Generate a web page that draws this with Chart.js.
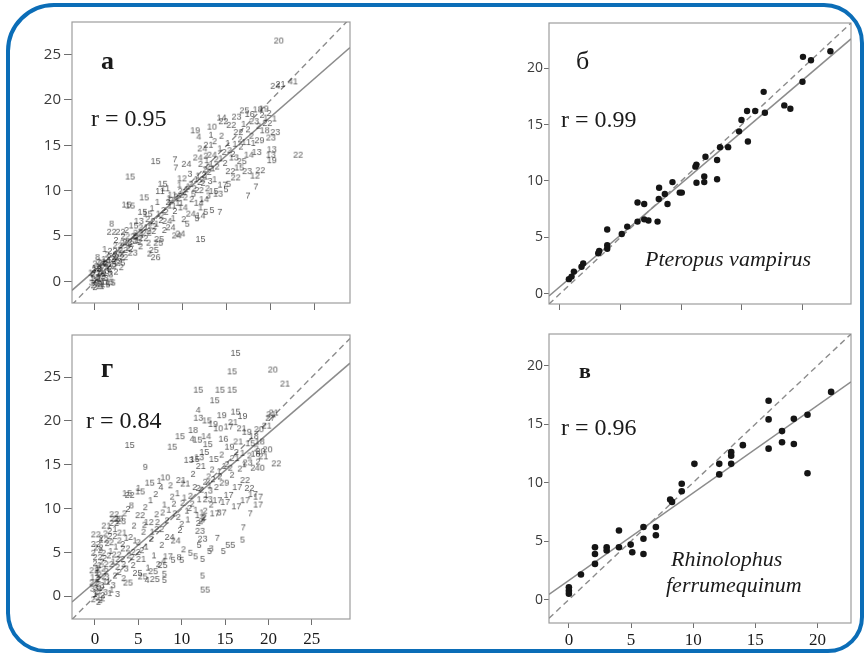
<!DOCTYPE html>
<html>
<head>
<meta charset="utf-8">
<script src="https://cdn.jsdelivr.net/npm/chart.js@4.4.0/dist/chart.umd.min.js"></script>
<style>
  body { margin: 0; background: #fff; width: 866px; height: 657px; overflow: hidden; position: relative; }
  .frame { position: absolute; left: 6px; top: 3px; width: 850px; height: 642px; border: 4px solid #0b6db7; border-radius: 48px 40px 36px 40px; }
  canvas { position: absolute; }
  .note { position: absolute; font-family: "Liberation Serif", serif; color: #1a1a1a; line-height: 1; white-space: nowrap; }
</style>
</head>
<body>
<div class="frame"></div>

<script>
// а: observed vs predicted, all species (points labelled with species number)
const aXTicks = [0, 5, 10, 15, 20, 25];
const aYTicks = [0, 5, 10, 15, 20, 25];
const aFit = [0.848, 1.2]; // slope, intercept
const aPoints = [
  [-0.2,-0.5,'2'],[0,0,'1'],[0.3,0.4,'3'],[0.5,-0.2,'2'],[0.1,0.8,'22'],[-0.3,0.3,'1'],[0.6,1.0,'3'],[0.9,0.5,'2'],
  [0.2,1.4,'12'],[0.8,1.7,'2'],[1.1,1.1,'13'],[1.3,0.3,'3'],[0.4,-0.6,'2'],[1.5,1.9,'22'],[1.0,2.4,'1'],[1.7,1.3,'2'],
  [1.9,2.6,'22'],[2.2,1.8,'3'],[2.5,2.2,'23'],[1.4,2.9,'2'],[0.0,1.9,'2'],[-0.1,1.2,'3'],[0.7,2.1,'21'],[2.0,3.3,'22'],
  [2.7,3.0,'2'],[2.9,2.0,'25'],[3.2,3.4,'22'],[1.2,-0.4,'15'],[1.6,-0.1,'15'],[0.5,0.2,'1'],[0.2,-0.3,'2'],[1.8,0.7,'3'],
  [2.4,1.0,'2'],[0.9,-0.1,'1'],[3.0,1.5,'2'],[1.1,3.5,'1'],[0.3,2.6,'8'],[2.6,3.9,'22'],[3.5,2.6,'2'],[3.4,4.2,'22'],
  [0.1,0.1,'2'],[0.4,0.9,'1'],[-0.4,-0.2,'3'],[0.7,0.3,'22'],[1.0,0.8,'2'],[0.3,1.6,'1'],[-0.2,0.7,'2'],[0.6,-0.4,'3'],
  [1.3,1.5,'2'],[0.9,2.0,'22'],[1.6,2.3,'1'],[0.0,-0.7,'2'],[1.4,0.9,'13'],[2.1,2.4,'2'],[0.5,1.3,'3'],[1.9,1.6,'22'],
  [-0.5,0.9,'1'],[1.2,1.9,'2'],[2.3,2.9,'2'],[0.8,-0.6,'1'],
  [3.8,3.6,'2'],[4.0,4.9,'22'],[4.3,3.1,'23'],[4.6,4.4,'2'],[4.9,5.3,'22'],[5.2,3.8,'2'],[5.5,4.7,'22'],[5.8,5.9,'1'],
  [6.1,4.2,'2'],[6.4,5.5,'22'],[6.7,3.4,'25'],[7.0,6.3,'1'],[7.3,4.6,'25'],[7.6,7.2,'2'],[5.0,6.6,'13'],[4.4,6.1,'15'],
  [3.6,5.6,'2'],[2.9,5.4,'22'],[2.4,4.5,'2'],[6.0,7.4,'15'],[6.5,8.0,'1'],[5.4,7.6,'15'],[4.0,8.3,'15'],[5.6,9.2,'15'],
  [7.1,8.7,'1'],[7.9,5.6,'2'],[8.2,6.6,'24'],[6.9,2.6,'26'],[6.2,3.0,'2'],
  [2.8,2.6,'22'],[3.1,3.0,'2'],[3.7,4.3,'22'],[4.1,3.5,'2'],[4.7,4.9,'2'],[5.3,5.1,'1'],[5.9,5.3,'22'],[6.3,6.1,'2'],
  [6.8,6.0,'2'],[7.2,7.4,'1'],[7.5,6.7,'2'],[8.1,7.6,'2'],[6.0,6.8,'2'],[5.2,5.9,'2'],[3.2,4.9,'2'],
  [8.5,8.3,'1'],[8.8,9.5,'11'],[9.1,7.7,'2'],[9.4,8.6,'1'],[9.7,9.9,'2'],[10.0,8.1,'14'],[10.3,9.2,'2'],[10.6,10.4,'1'],
  [10.9,7.4,'24'],[11.2,9.6,'5'],[11.5,11.2,'1'],[11.8,8.6,'14'],[12.1,10.0,'2'],[12.4,11.7,'2'],[8.0,10.2,'11'],[7.4,9.9,'11'],
  [9.9,11.3,'12'],[10.8,11.8,'3'],[8.6,5.9,'24'],[9.3,5.0,'24'],[10.5,6.3,'5'],[11.6,6.9,'5'],[12.6,7.6,'5'],[13.3,7.8,'5'],
  [7.8,7.8,'2'],[8.9,6.9,'1'],[10.1,6.8,'2'],[12.0,7.2,'14'],[6.6,6.6,'2'],[9.6,10.6,'1'],[7.7,10.7,'15'],
  [12.3,10.8,'2'],[12.6,11.5,'1'],[12.8,10.2,'2'],[13.1,11.0,'3'],[12.5,12.3,'2'],[13.4,12.4,'1'],[11.9,10.9,'2'],
  [8.7,8.9,'2'],[9.0,8.3,'1'],[9.5,9.1,'2'],[8.3,8.7,'2'],[9.8,8.6,'1'],[4.2,4.1,'2'],[4.8,4.5,'1'],[4.5,5.0,'2'],[5.1,4.3,'2'],
  [8.4,9.1,'1'],[9.2,9.3,'2'],[9.9,9.5,'2'],[10.4,10.1,'1'],[10.9,10.7,'2'],[11.3,10.2,'2'],[11.7,11.6,'1'],[12.2,11.2,'2'],
  [11.0,9.0,'2'],[10.2,9.8,'1'],[11.6,10.0,'2'],[12.0,8.1,'1'],
  [12.7,13.3,'1'],[13.0,12.0,'2'],[13.3,13.9,'24'],[13.6,11.2,'1'],[13.9,12.6,'2'],[14.2,14.6,'1'],[14.5,10.6,'17'],[14.8,13.0,'2'],
  [15.1,15.2,'1'],[15.4,12.1,'22'],[15.7,14.0,'2'],[16.0,11.4,'22'],[12.2,14.6,'24'],[12.9,15.0,'21'],[13.6,15.4,'2'],[14.4,16.0,'2'],
  [12.0,12.9,'2'],[12.9,9.4,'3'],[13.5,9.9,'15'],[14.0,9.6,'13'],[14.9,10.1,'5'],[11.7,13.6,'24'],[13.2,16.1,'1'],[12.4,9.0,'14'],[15.2,10.7,'5'],
  [12.9,12.6,'2'],[13.2,12.9,'1'],[12.6,13.8,'2'],[13.8,13.4,'2'],[14.3,13.5,'1'],[14.7,14.2,'2'],[15.3,14.4,'2'],[15.9,15.1,'1'],
  [16.3,16.4,'22'],[16.6,14.8,'2'],[16.9,17.3,'1'],[17.2,15.3,'11'],[17.5,13.9,'14'],[17.8,16.0,'2'],[18.1,17.6,'23'],[18.4,14.2,'13'],
  [18.7,15.5,'29'],[19.0,18.3,'2'],[19.3,16.6,'18'],[19.6,17.4,'22'],[20.0,15.8,'23'],[15.5,17.2,'22'],[16.1,18.1,'23'],[17.0,18.8,'25'],
  [17.6,18.4,'16'],[18.5,18.9,'18'],[19.2,19.0,'19'],[19.8,18.5,'2'],[20.4,17.9,'1'],[20.5,16.4,'23'],[20.0,13.9,'13'],[20.1,13.3,'19'],
  [18.2,11.6,'12'],[17.3,12.1,'23'],[16.4,12.5,'15'],[15.8,13.6,'13'],[18.8,12.2,'22'],[14.6,17.6,'22'],[16.7,13.2,'25'],
  [16.5,15.6,'2'],[17.4,16.7,'2'],[18.0,15.2,'1'],[18.6,17.1,'2'],[19.4,18.0,'1'],
  [20.9,26.5,'20'],[20.5,21.5,'24'],[21.1,21.7,'21'],[22.5,22.0,'41'],[23.1,13.9,'22'],[20.1,14.5,'13'],[6.9,13.2,'15'],[9.1,13.4,'7'],
  [4.0,11.5,'15'],[11.4,16.6,'19'],[13.3,17.0,'10'],[14.4,18.0,'14'],[18.3,10.4,'7'],[17.4,9.4,'7'],[14.2,7.6,'7'],[9.7,5.2,'24'],
  [12.0,4.6,'15'],[3.6,8.4,'15'],[1.9,6.3,'8'],[1.9,5.4,'22'],[1.8,-0.2,'15'],[7.2,4.2,'25'],[11.8,15.9,'4'],[10.4,12.9,'24'],[9.2,12.5,'7']
];

// б: Pteropus vampirus
const bXTicks = [0, 5, 10, 15, 20];
const bYTicks = [0, 5, 10, 15, 20];
const bFit = [0.915, 0.63];
const bPoints = [
  [0.74,1.3],[0.96,1.53],[1.15,1.97],[1.78,2.4],[1.92,2.7],[3.16,3.6],[3.24,3.8],[3.9,4.0],[3.9,4.3],[3.9,5.7],
  [5.1,5.3],[5.55,5.96],[6.4,6.4],[6.4,8.1],[6.95,7.96],[6.95,6.6],[7.3,6.5],[8.05,6.4],[8.15,8.4],[8.18,9.4],
  [8.65,8.85],[8.87,7.96],[9.28,9.9],[9.88,8.97],[10.05,8.97],[11.17,11.27],[11.25,11.45],[11.26,9.85],[11.9,10.4],[11.9,9.9],
  [12.0,12.15],[12.96,11.86],[12.96,10.15],[13.2,13.0],[13.87,13.0],[14.77,14.4],[14.97,15.4],[15.43,16.2],[15.5,13.5],[16.1,16.2],
  [16.8,17.9],[16.9,16.05],[18.5,16.7],[19.0,16.4],[20.0,18.8],[20.04,21.0],[20.7,20.7],[22.3,21.5]
];

// г: all species, second model
const gXTicks = [0, 5, 10, 15, 20, 25];
const gYTicks = [0, 5, 10, 15, 20, 25];
const gFit = [0.85, 1.6];
const gPoints = [
  [-0.2,-0.4,'2'],[0,0.2,'1'],[0.3,-0.2,'2'],[0.1,0.9,'3'],[0.5,0.5,'1'],[-0.1,1.5,'22'],[0.4,1.9,'2'],[0.8,1.2,'3'],
  [0.2,2.6,'1'],[0.7,3.1,'22'],[1.0,2.2,'2'],[0.0,3.7,'2'],[0.3,4.4,'22'],[0.6,5.2,'2'],[0.1,5.9,'22'],[-0.2,4.9,'2'],
  [1.2,0.4,'3'],[1.5,1.6,'1'],[1.3,2.8,'2'],[1.6,3.6,'22'],[1.1,4.3,'2'],[1.8,5.1,'1'],[1.4,6.0,'2'],[2.0,6.8,'22'],
  [1.7,7.4,'2'],[2.3,2.3,'2'],[2.1,1.2,'3'],[2.6,3.3,'2'],[2.9,4.2,'22'],[2.4,5.6,'1'],[2.8,6.3,'2'],[3.1,7.2,'21'],
  [3.3,2.0,'2'],[3.6,3.1,'3'],[3.9,4.6,'2'],[3.5,5.4,'22'],[4.1,6.7,'2'],[3.8,1.5,'25'],[0.9,-0.3,'2'],[0.4,-0.7,'2'],
  [1.9,0.7,'1'],[2.6,0.2,'3'],[0.0,2.1,'12'],[0.5,3.5,'1'],[1.0,6.4,'12'],[2.2,8.3,'22'],[2.7,8.8,'23'],[3.0,8.5,'23'],
  [3.4,9.4,'2'],[1.3,8.0,'21'],
  [0.2,0.5,'2'],[0.6,0.9,'1'],[-0.3,0.8,'3'],[0.3,1.3,'2'],[0.9,0.1,'2'],[1.1,1.6,'1'],[0.5,2.4,'2'],[-0.1,2.9,'22'],
  [0.8,3.9,'2'],[1.4,2.1,'3'],[0.2,3.2,'1'],[1.0,4.9,'2'],[0.4,5.5,'22'],[1.6,4.6,'2'],[2.1,3.9,'1'],[0.7,6.6,'2'],
  [1.9,6.1,'2'],[2.5,4.7,'22'],[1.2,7.1,'2'],[2.3,7.6,'1'],[0.1,7.0,'22'],[0.6,-0.5,'2'],[1.7,0.3,'1'],[2.8,2.7,'2'],
  [3.2,5.9,'2'],[3.6,6.6,'1'],[2.2,9.3,'22'],[3.3,3.6,'2'],
  [4.4,3.5,'2'],[4.7,5.0,'22'],[5.0,6.1,'2'],[5.3,4.2,'21'],[5.6,7.3,'2'],[5.9,5.6,'1'],[6.2,8.4,'12'],[6.5,6.5,'2'],
  [6.8,4.6,'1'],[7.1,9.3,'2'],[7.4,7.6,'22'],[7.7,5.8,'2'],[8.0,10.4,'1'],[8.3,8.6,'2'],[8.6,6.7,'24'],[8.9,11.3,'2'],
  [4.5,8.0,'2'],[5.2,9.2,'22'],[5.8,10.1,'2'],[6.4,10.9,'1'],[7.0,11.6,'2'],[7.6,12.4,'4'],[4.9,2.6,'25'],[5.5,2.2,'25'],
  [6.1,3.2,'1'],[6.7,2.8,'25'],[7.3,3.6,'2'],[8.0,2.5,'5'],[8.4,4.5,'17'],[6.0,1.8,'4'],[4.2,10.3,'8'],[3.8,9.9,'2'],
  [4.0,11.5,'22'],[5.0,12.3,'1'],[6.3,12.9,'15'],[7.4,13.1,'1'],[8.1,13.5,'10'],[8.7,12.6,'2'],[7.9,4.0,'4'],
  [4.3,4.4,'2'],[4.6,6.3,'1'],[5.4,5.2,'2'],[5.7,8.1,'2'],[6.6,7.3,'1'],[7.2,8.4,'2'],[7.8,9.5,'2'],[8.5,9.8,'1'],
  [9.2,9.4,'2'],[9.5,11.7,'1'],[9.8,7.5,'2'],[10.1,10.6,'2'],[10.4,12.8,'21'],[10.7,8.7,'1'],[11.0,11.4,'2'],[11.3,13.9,'2'],
  [11.6,9.8,'1'],[11.9,12.3,'2'],[12.2,14.8,'21'],[12.5,8.9,'2'],[12.8,11.5,'1'],[13.1,13.6,'2'],[13.4,10.4,'2'],[13.7,15.6,'15'],
  [14.0,12.4,'2'],[12.3,9.5,'1'],[12.1,7.4,'23'],[12.4,6.5,'23'],[12.0,5.8,'5'],[9.9,13.2,'21'],[10.8,15.5,'13'],[11.5,15.6,'15'],
  [12.0,15.8,'13'],[12.6,16.4,'15'],[13.0,17.3,'15'],[11.8,17.8,'15'],[12.8,18.2,'14'],[13.3,12.0,'3'],[13.6,13.3,'2'],[13.0,11.0,'23'],
  [10.0,8.2,'2'],[10.6,9.7,'1'],[11.2,10.5,'2'],[9.3,6.3,'24'],[10.2,5.3,'2'],[11.0,4.9,'5'],[13.4,5.4,'3'],[9.7,4.4,'8'],
  [9.0,4.1,'5'],[12.4,8.7,'3'],[12.7,9.7,'2'],[11.9,8.3,'2'],
  [9.1,10.5,'2'],[9.6,9.0,'2'],[10.3,11.2,'1'],[10.9,10.0,'2'],[11.5,12.4,'2'],[12.0,11.0,'1'],[12.3,12.1,'2'],[12.7,13.0,'2'],
  [13.2,12.6,'1'],[13.5,14.4,'2'],[12.2,8.5,'2'],[11.8,9.2,'1'],[12.6,9.0,'2'],
  [14.3,14.2,'1'],[14.6,16.1,'2'],[14.9,12.9,'29'],[15.2,15.0,'2'],[15.5,17.0,'19'],[15.8,13.8,'2'],[16.1,15.7,'21'],[16.4,12.4,'17'],
  [16.7,14.5,'2'],[17.0,16.3,'1'],[17.3,13.2,'22'],[17.6,15.2,'23'],[17.9,17.4,'15'],[18.2,14.6,'2'],[18.5,16.2,'18'],[18.8,15.3,'2'],
  [19.1,16.5,'20'],[19.4,15.9,'21'],[19.0,17.6,'18'],[18.3,18.2,'18'],[17.5,18.7,'19'],[16.5,17.6,'21'],[14.8,17.9,'16'],[14.2,19.1,'10'],
  [13.6,19.6,'19'],[15.4,19.3,'17'],[16.9,19.1,'21'],[18.9,19.0,'20'],[19.8,19.4,'21'],[20.3,20.7,'21'],[19.9,16.7,'20'],[17.8,12.3,'22'],
  [18.2,11.6,'17'],[16.3,10.2,'17'],[14.1,10.9,'17'],[15.0,10.7,'17'],[15.4,11.5,'17'],
  [14.4,13.6,'2'],[14.9,14.8,'1'],[15.6,14.6,'2'],[16.3,16.4,'2'],[17.2,15.0,'1'],[17.8,16.0,'2'],[18.6,16.8,'2'],
  [16.2,27.7,'15'],[15.8,25.6,'15'],[20.5,25.8,'20'],[21.9,24.2,'21'],[11.9,23.5,'15'],[14.4,23.5,'15'],[15.8,23.5,'15'],[13.8,22.3,'15'],
  [11.9,21.2,'4'],[16.2,21.0,'15'],[14.6,20.6,'19'],[17.0,20.5,'19'],[20.6,20.9,'21'],[20.2,20.3,'27'],[11.9,20.3,'13'],[12.9,20.0,'15'],
  [11.3,18.9,'18'],[15.9,19.8,'21'],[9.8,18.2,'15'],[11.2,17.9,'4'],[4.0,17.2,'15'],[8.9,17.0,'15'],[5.8,14.7,'9'],[20.9,15.1,'22'],
  [19.0,14.6,'40'],[3.7,11.7,'15'],[5.2,11.9,'15'],[17.3,10.9,'17'],[18.8,11.3,'17'],[18.8,10.4,'17'],[17.9,9.4,'7'],[13.8,9.4,'17'],
  [14.6,9.5,'37'],[17.1,7.8,'7'],[14.1,6.6,'7'],[17.0,6.4,'5'],[15.6,5.8,'55'],[14.8,5.1,'5'],[13.2,5.1,'5'],[11.6,4.5,'5'],
  [10.0,4.1,'5'],[12.4,4.2,'5'],[12.4,2.3,'5'],[12.7,0.7,'55'],[7.8,3.5,'25'],[6.9,1.9,'25'],[8.0,1.8,'5'],[2.3,8.8,'22']
];

// в: Rhinolophus ferrumequinum
const vXTicks = [0, 5, 10, 15, 20];
const vYTicks = [0, 5, 10, 15, 20];
const vFit = [0.748, 1.64];
const vPoints = [
  [0,1.05],[0,0.75],[0,0.5],[0.97,2.14],[2.1,4.47],[2.1,3.9],[2.1,3.05],[3.04,4.47],[3.04,4.2],[4.03,5.9],
  [4.03,4.47],[4.97,4.7],[5.1,4.05],[6.0,6.2],[6.0,5.2],[6.0,3.9],[7.0,6.2],[7.0,5.5],[8.15,8.55],[8.3,8.35],
  [9.08,9.9],[9.08,9.26],[10.1,11.6],[12.1,11.6],[12.1,10.7],[13.06,12.6],[13.06,12.3],[13.06,11.6],[14.0,13.2],[16.07,17.0],
  [16.07,15.4],[16.07,12.9],[17.15,14.4],[17.15,13.45],[18.1,15.45],[18.1,13.3],[19.2,15.8],[19.2,10.8],[21.1,17.75]
];

// маленькие подписи-номера видов вместо точек
const glyphs = {};
function glyph(txt) {
  if (!glyphs[txt]) {
    const c = document.createElement('canvas');
    const g = c.getContext('2d');
    const font = '9px "Liberation Sans", sans-serif';
    g.font = font;
    const w = Math.ceil(g.measureText(txt).width) + 2;
    c.width = w;
    c.height = 11;
    g.font = font;
    g.fillStyle = 'rgba(20,20,20,0.72)';
    g.textAlign = 'center';
    g.textBaseline = 'middle';
    g.fillText(txt, w / 2, 5.5);
    glyphs[txt] = c;
  }
  return glyphs[txt];
}

const framePlugin = {
  id: 'frame',
  beforeDatasetsDraw(chart) {
    const { ctx, chartArea: a } = chart;
    ctx.save();
    ctx.strokeStyle = '#9d9d9d';
    ctx.lineWidth = 1.2;
    ctx.strokeRect(a.left, a.top, a.right - a.left, a.bottom - a.top);
    ctx.restore();
  }
};

function makePanel(p) {
  const [l, t, r, b] = p.box;
  const padL = 60, padT = 12, padR = 12, padB = 40;
  const canvas = document.createElement('canvas');
  canvas.width = r - l + padL + padR;
  canvas.height = b - t + padT + padB;
  canvas.style.left = (l - padL) + 'px';
  canvas.style.top = (t - padT) + 'px';
  document.body.appendChild(canvas);

  const [x0, x1] = p.xr;
  const [slope, icpt] = p.fit;
  const pts = p.pts.map(([x, y, id]) => ({ x, y, id }));
  const marks = p.labels
    ? { data: pts, pointStyle: c => glyph(c.raw.id), pointRadius: 3 }
    : { data: pts, pointStyle: 'circle', pointRadius: p.dot, backgroundColor: '#151515', borderWidth: 0 };

  new Chart(canvas, {
    type: 'scatter',
    data: {
      datasets: [
        marks,
        { data: [{ x: x0, y: x0 }, { x: x1, y: x1 }], showLine: true, pointRadius: 0,
          borderColor: '#8c8c8c', borderWidth: 1.4, borderDash: [6, 4] },
        { data: [{ x: x0, y: slope * x0 + icpt }, { x: x1, y: slope * x1 + icpt }], showLine: true, pointRadius: 0,
          borderColor: '#8c8c8c', borderWidth: 1.5 }
      ]
    },
    options: {
      responsive: false,
      animation: false,
      events: [],
      layout: { padding: { top: padT, right: padR, left: 0, bottom: 0 } },
      plugins: { legend: { display: false }, tooltip: { enabled: false } },
      scales: {
        x: {
          type: 'linear', min: x0, max: x1,
          afterFit: s => { s.height = padB; },
          afterBuildTicks: s => { s.ticks = p.xt.map(v => ({ value: v })); },
          grid: { drawOnChartArea: false, drawTicks: true, tickLength: p.xTick[0], color: '#6f6f6f' },
          border: { display: false },
          ticks: { padding: p.xTick[1], color: p.showX ? '#1a1a1a' : 'rgba(0,0,0,0)', maxRotation: 0,
                   font: { family: '"Liberation Serif", serif', size: 17 } }
        },
        y: {
          type: 'linear', min: p.yr[0], max: p.yr[1],
          afterFit: s => { s.width = padL; },
          afterBuildTicks: s => { s.ticks = p.yt.map(v => ({ value: v })); },
          grid: { drawOnChartArea: false, drawTicks: true, tickLength: p.yTick[0], color: '#6f6f6f' },
          border: { display: false },
          ticks: { padding: p.yTick[1], color: '#3a3a3a',
                   font: { family: '"Open Sans", sans-serif', size: p.yTick[2] } }
        }
      }
    },
    plugins: [framePlugin]
  });
}

makePanel({ box: [72, 22, 350, 303], xr: [-2.6, 29], yr: [-2.4, 28.6], xt: aXTicks, yt: aYTicks, fit: aFit,
            pts: aPoints, labels: true, showX: false, xTick: [7, 3], yTick: [8, 3, 15] });
makePanel({ box: [549, 23, 851, 304], xr: [-0.9, 24], yr: [-0.9, 24], xt: bXTicks, yt: bYTicks, fit: bFit,
            pts: bPoints, labels: false, dot: 3.2, showX: false, xTick: [6, 3], yTick: [5, 1, 14] });
makePanel({ box: [72, 335, 350, 619], xr: [-2.65, 29.4], yr: [-2.6, 29.8], xt: gXTicks, yt: gYTicks, fit: gFit,
            pts: gPoints, labels: true, showX: true, xTick: [6, 4], yTick: [8, 3, 15] });
makePanel({ box: [549, 334, 851, 623], xr: [-1.6, 22.7], yr: [-2.0, 22.7], xt: vXTicks, yt: vYTicks, fit: vFit,
            pts: vPoints, labels: false, dot: 3.3, showX: true, xTick: [5, 2], yTick: [5, 1, 14] });

// подписи панелей
const notes = [
  ['а', 101, 48, '26px', 'bold', 'normal'],
  ['r = 0.95', 91, 106, '24px', 'normal', 'normal'],
  ['б', 576, 48, '26px', 'normal', 'normal'],
  ['r = 0.99', 561, 107, '24px', 'normal', 'normal'],
  ['Pteropus vampirus', 645, 248, '22px', 'normal', 'italic'],
  ['г', 101, 355, '27px', 'bold', 'normal'],
  ['r = 0.84', 86, 408, '24px', 'normal', 'normal'],
  ['в', 579, 360, '22px', 'bold', 'normal'],
  ['r = 0.96', 561, 415, '24px', 'normal', 'normal'],
  ['Rhinolophus', 671, 548, '22px', 'normal', 'italic'],
  ['ferrumequinum', 666, 574, '22px', 'normal', 'italic']
];
notes.forEach(([txt, x, y, size, weight, style]) => {
  const d = document.createElement('div');
  d.className = 'note';
  d.textContent = txt;
  d.style.left = x + 'px';
  d.style.top = y + 'px';
  d.style.fontSize = size;
  d.style.fontWeight = weight;
  d.style.fontStyle = style;
  document.body.appendChild(d);
});
</script>
</body>
</html>
